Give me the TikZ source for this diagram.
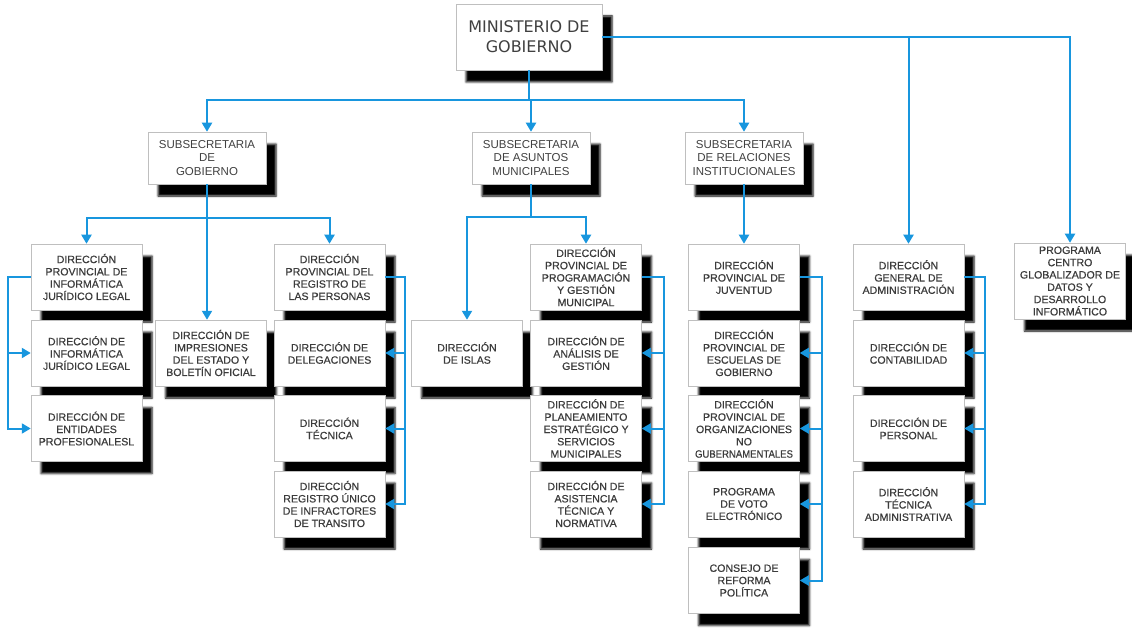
\documentclass[tikz,border=0pt]{standalone}
\usepackage{fontspec}
\setmainfont{Liberation Sans}
\newfontfamily\tahoma{DejaVu Sans}
\newfontfamily\cajafont[FakeBold=0.5]{Liberation Sans}
\usetikzlibrary{arrows.meta,shadows.blur}
\definecolor{azul}{RGB}{24,150,222}
\definecolor{texto}{RGB}{60,60,60}

\begin{document}
\begin{tikzpicture}[x=1pt,y=-1pt,
    caja/.style={draw=black!25, line width=0.5pt, fill=white, align=center, text=texto,
      minimum width=111pt, minimum height=66pt, inner sep=1pt,
      font=\cajafont\fontsize{10.6}{12.3}\selectfont,
      blur shadow={shadow xshift=10pt, shadow yshift=-12pt, shadow blur radius=2pt, shadow opacity=100}},
    subsec/.style={caja, minimum width=118pt, minimum height=52pt, text=black!75,
      font=\fontsize{11.5}{13.5}\selectfont},
    rama/.style={draw=azul, line width=2pt},
    flecha/.style={rama, -{Triangle[width=10pt,length=9pt]}}]
  \useasboundingbox (0,0) rectangle (1132,628);

  % ministerio y subsecretarias
  \node[caja, minimum width=146pt, text=black!75, font=\tahoma\fontsize{16}{20}\selectfont] (min) at (529,37) {MINISTERIO DE\\GOBIERNO};
  \node[subsec] (sgob) at (207,158) {SUBSECRETARIA\\DE\\GOBIERNO};
  \node[subsec] (sam) at (531,158) {SUBSECRETARIA\\DE ASUNTOS\\MUNICIPALES};
  \node[subsec] (sri) at (744,158) {SUBSECRETARIA\\DE RELACIONES\\INSTITUCIONALES};

  % subsecretaria de gobierno
  \node[caja] (dpijl) at (86.5,277) {DIRECCIÓN\\PROVINCIAL DE\\INFORMÁTICA\\JURÍDICO LEGAL};
  \node[caja] (dijl) at (86.5,353) {DIRECCIÓN DE\\INFORMÁTICA\\JURÍDICO LEGAL};
  \node[caja] (dep) at (86.5,428.5) {DIRECCIÓN DE\\ENTIDADES\\PROFESIONALESL};
  \node[caja] (imp) at (211,353) {DIRECCIÓN DE\\IMPRESIONES\\DEL ESTADO Y\\BOLETÍN OFICIAL};
  \node[caja] (dprp) at (329.5,277) {DIRECCIÓN\\PROVINCIAL DEL\\REGISTRO DE\\LAS PERSONAS};
  \node[caja] (deleg) at (329.5,353) {DIRECCIÓN DE\\DELEGACIONES};
  \node[caja] (tec) at (329.5,428.5) {DIRECCIÓN\\TÉCNICA};
  \node[caja] (reg) at (329.5,504) {DIRECCIÓN\\REGISTRO ÚNICO\\DE INFRACTORES\\DE TRANSITO};

  % asuntos municipales
  \node[caja] (islas) at (467,353) {DIRECCIÓN\\DE ISLAS};
  \node[caja] (dppgm) at (586,277) {DIRECCIÓN\\PROVINCIAL DE\\PROGRAMACIÓN\\Y GESTIÓN\\MUNICIPAL};
  \node[caja] (anal) at (586,353) {DIRECCIÓN DE\\ANÁLISIS DE\\GESTIÓN};
  \node[caja] (plan) at (586,428.5) {DIRECCIÓN DE\\PLANEAMIENTO\\ESTRATÉGICO Y\\SERVICIOS\\MUNICIPALES};
  \node[caja] (asist) at (586,504) {DIRECCIÓN DE\\ASISTENCIA\\TÉCNICA Y\\NORMATIVA};

  % relaciones institucionales
  \node[caja] (juv) at (744,277) {DIRECCIÓN\\PROVINCIAL DE\\JUVENTUD};
  \node[caja] (esc) at (744,353) {DIRECCIÓN\\PROVINCIAL DE\\ESCUELAS DE\\GOBIERNO};
  \node[caja] (org) at (744,428.5) {DIRECCIÓN\\PROVINCIAL DE\\ORGANIZACIONES\\NO\\\scalebox{0.9}[1]{GUBERNAMENTALES}};
  \node[caja] (voto) at (744,504) {PROGRAMA\\DE VOTO\\ELECTRÓNICO};
  \node[caja] (cons) at (744,580.5) {CONSEJO DE\\REFORMA\\POLÍTICA};

  % administracion
  \node[caja] (dga) at (908.5,277) {DIRECCIÓN\\GENERAL DE\\ADMINISTRACIÓN};
  \node[caja] (cont) at (908.5,353) {DIRECCIÓN DE\\CONTABILIDAD};
  \node[caja] (pers) at (908.5,428.5) {DIRECCIÓN DE\\PERSONAL};
  \node[caja] (tadm) at (908.5,504) {DIRECCIÓN\\TÉCNICA\\ADMINISTRATIVA};
  \node[caja, minimum height=76pt] (prog) at (1070,281) {PROGRAMA\\CENTRO\\GLOBALIZADOR DE\\DATOS Y\\DESARROLLO\\INFORMÁTICO};

  % conectores
  \coordinate (c0) at (529,100);
  \coordinate (c1) at (207,218);
  \coordinate (c2) at (531,217);
  \draw[rama] (min) -- (c0);
  \draw[flecha] (c0) -| (sgob);
  \draw[flecha] (c0) -| (sam);
  \draw[flecha] (c0) -| (sri);
  \draw[flecha] (min.east) -| (dga);
  \draw[flecha] (min.east) -| (prog);

  \draw[rama] (sgob) -- (c1);
  \draw[flecha] (c1) -| (dpijl);
  \draw[flecha] (c1) -| (dprp);
  \draw[flecha] (sgob.south) -- (sgob.south |- imp.north);
  \draw[flecha] (dpijl.west) -- ++(-23,0) |- (dijl);
  \draw[flecha] (dpijl.west) -- ++(-23,0) |- (dep);
  \draw[flecha] (dprp.east) -- ++(20,0) |- (deleg);
  \draw[flecha] (dprp.east) -- ++(20,0) |- (tec);
  \draw[flecha] (dprp.east) -- ++(20,0) |- (reg);

  \draw[rama] (sam) -- (c2);
  \draw[flecha] (c2) -| (islas);
  \draw[flecha] (c2) -| (dppgm);
  \draw[flecha] (dppgm.east) -- ++(22,0) |- (anal);
  \draw[flecha] (dppgm.east) -- ++(22,0) |- (plan);
  \draw[flecha] (dppgm.east) -- ++(22,0) |- (asist);

  \draw[flecha] (sri) -- (juv);
  \draw[flecha] (juv.east) -- ++(22,0) |- (esc);
  \draw[flecha] (juv.east) -- ++(22,0) |- (org);
  \draw[flecha] (juv.east) -- ++(22,0) |- (voto);
  \draw[flecha] (juv.east) -- ++(22,0) |- (cons);

  \draw[flecha] (dga.east) -- ++(21,0) |- (cont);
  \draw[flecha] (dga.east) -- ++(21,0) |- (pers);
  \draw[flecha] (dga.east) -- ++(21,0) |- (tadm);
\end{tikzpicture}
\end{document}
